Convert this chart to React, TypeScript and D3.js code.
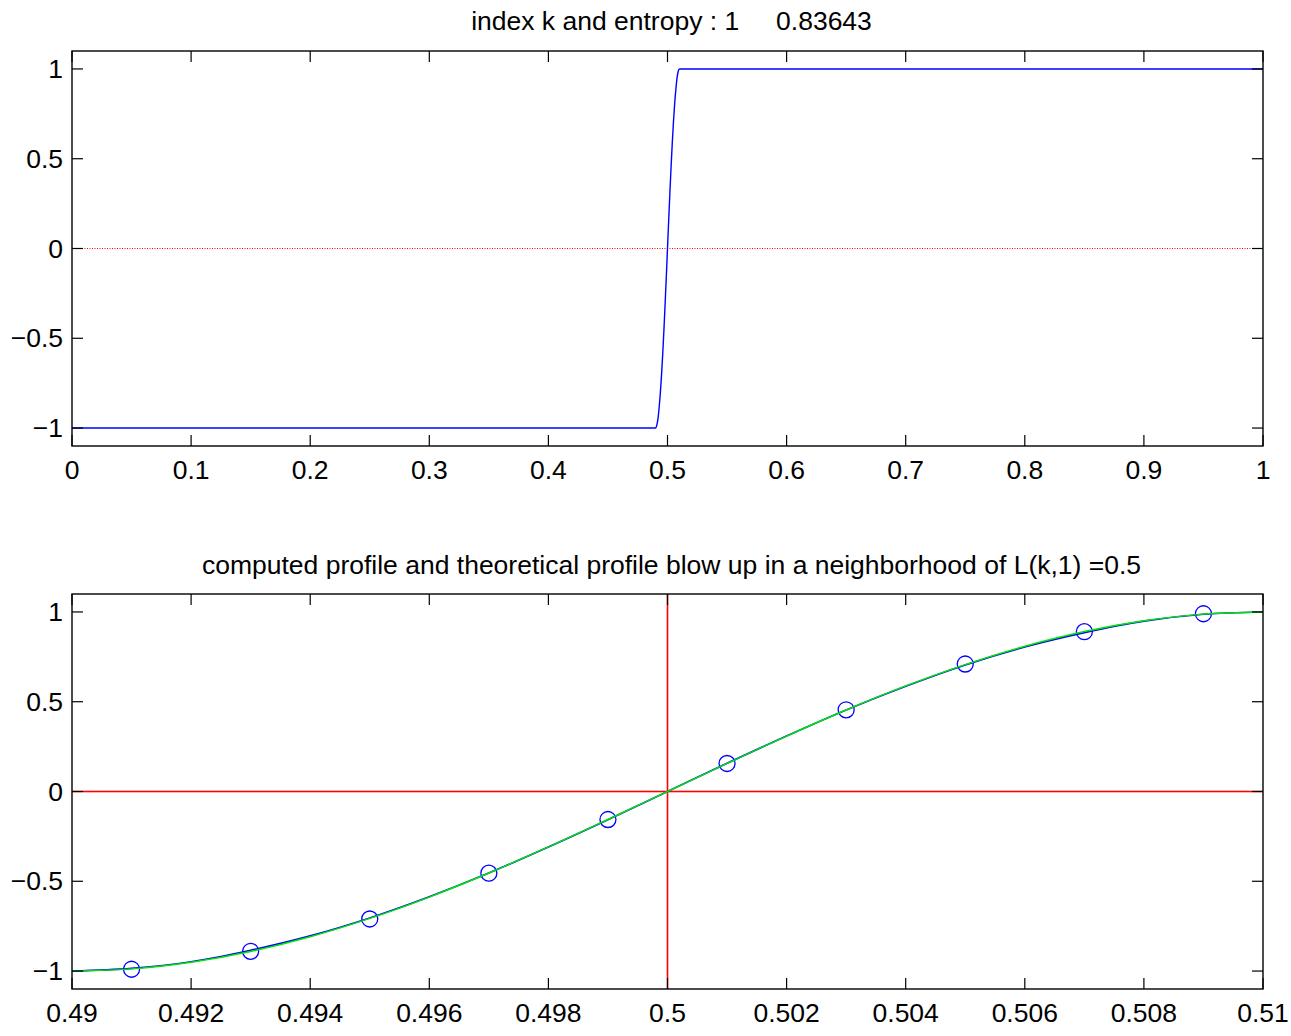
import React from "react";
import * as d3 from "d3";

const topTitle = "index k and entropy : 1     0.83643";
const bottomTitle = "computed profile and theoretical profile blow up in a neighborhood of L(k,1) =0.5";

const profileX = [0.490, 0.491, 0.492, 0.493, 0.494, 0.495, 0.496, 0.497, 0.498, 0.499, 0.500,
  0.501, 0.502, 0.503, 0.504, 0.505, 0.506, 0.507, 0.508, 0.509, 0.510];
const computedY = [-1.0, -0.985, -0.948, -0.884, -0.804, -0.704, -0.586, -0.454, -0.309, -0.157, 0.0,
  0.157, 0.309, 0.454, 0.586, 0.705, 0.805, 0.885, 0.949, 0.987, 1.0];
const theoreticalY = [-1.0, -0.988, -0.951, -0.891, -0.809, -0.707, -0.588, -0.454, -0.309, -0.156, 0.0,
  0.156, 0.309, 0.454, 0.588, 0.707, 0.809, 0.891, 0.951, 0.988, 1.0];
const markerX = [0.491, 0.493, 0.495, 0.497, 0.499, 0.501, 0.503, 0.505, 0.507, 0.509];
const markerY = [-0.99, -0.89, -0.71, -0.455, -0.156, 0.156, 0.455, 0.71, 0.89, 0.99];

const fullX = [0, ...profileX, 1];
const fullY = [-1, ...computedY, 1];

const topXTicks = [0, 0.1, 0.2, 0.3, 0.4, 0.5, 0.6, 0.7, 0.8, 0.9, 1];
const topXLabels = ["0", "0.1", "0.2", "0.3", "0.4", "0.5", "0.6", "0.7", "0.8", "0.9", "1"];
const botXTicks = [0.49, 0.492, 0.494, 0.496, 0.498, 0.5, 0.502, 0.504, 0.506, 0.508, 0.51];
const botXLabels = ["0.49", "0.492", "0.494", "0.496", "0.498", "0.5", "0.502", "0.504", "0.506", "0.508", "0.51"];
const yTicks = [-1, -0.5, 0, 0.5, 1];
const yLabels = ["\u22121", "\u22120.5", "0", "0.5", "1"];

const FONT = "'Liberation Sans', Arial, Helvetica, sans-serif";
const FS = 26.5;
const LEFT = 72;
const RIGHT = 1263;
const TICK = 11;

function Axes({ top, bottom, xDomain, xTicks, xLabels, title, titleY, children }: any) {
  const x = d3.scaleLinear().domain(xDomain).range([LEFT, RIGHT]);
  const y = d3.scaleLinear().domain([-1.1, 1.1]).range([bottom, top]);
  return (
    <g>
      <text x={(LEFT + RIGHT) / 2 + 4} y={titleY} textAnchor="middle" dominantBaseline="central"
        fontSize={FS} fontFamily={FONT} style={{ whiteSpace: "pre" }} xmlSpace="preserve">{title}</text>
      {children(x, y)}
      <rect x={LEFT} y={top} width={RIGHT - LEFT} height={bottom - top} fill="none" stroke="#000" strokeWidth={1.4} />
      {xTicks.map((t: number, i: number) => (
        <g key={"x" + i}>
          <line x1={x(t)} x2={x(t)} y1={bottom} y2={bottom - TICK} stroke="#000" strokeWidth={1.2} />
          <line x1={x(t)} x2={x(t)} y1={top} y2={top + TICK} stroke="#000" strokeWidth={1.2} />
          <text x={x(t)} y={bottom + 24} textAnchor="middle" dominantBaseline="central" fontSize={FS} fontFamily={FONT}>{xLabels[i]}</text>
        </g>
      ))}
      {yTicks.map((t: number, i: number) => (
        <g key={"y" + i}>
          <line x1={LEFT} x2={LEFT + TICK} y1={y(t)} y2={y(t)} stroke="#000" strokeWidth={1.2} />
          <line x1={RIGHT} x2={RIGHT - TICK} y1={y(t)} y2={y(t)} stroke="#000" strokeWidth={1.2} />
          <text x={LEFT - 9} y={y(t)} textAnchor="end" dominantBaseline="central" fontSize={FS} fontFamily={FONT}>{yLabels[i]}</text>
        </g>
      ))}
    </g>
  );
}

export default function App() {
  return (
    <svg width={1291} height={1036} style={{ position: "absolute", left: 0, top: 0, background: "#fff" }}>
      <rect width={1291} height={1036} fill="#fff" />
      <Axes top={51} bottom={446} xDomain={[0, 1]} xTicks={topXTicks} xLabels={topXLabels}
        title={topTitle} titleY={21}>
        {(x: any, y: any) => {
          const line = d3.line<number>().x((_, i) => x(fullX[i])).y((d) => y(d)).curve(d3.curveMonotoneX);
          return (
            <g>
              <line x1={x(0)} x2={x(1)} y1={y(0)} y2={y(0)} stroke="#ff0000" strokeWidth={1} strokeDasharray="1,1.5" />
              <path d={line(fullY) || ""} fill="none" stroke="#0000ff" strokeWidth={1.4} />
            </g>
          );
        }}
      </Axes>
      <Axes top={594} bottom={989} xDomain={[0.49, 0.51]} xTicks={botXTicks} xLabels={botXLabels}
        title={bottomTitle} titleY={565}>
        {(x: any, y: any) => {
          const mk = (ys: number[]) => d3.line<number>().x((_, i) => x(profileX[i])).y((d) => y(d)).curve(d3.curveMonotoneX)(ys) || "";
          return (
            <g>
              <rect x={x(0.49)} y={y(0) - 0.8} width={x(0.51) - x(0.49)} height={1.6} fill="#ff0000" />
              <rect x={x(0.5) - 0.8} y={y(1.1)} width={1.6} height={y(-1.1) - y(1.1)} fill="#ff0000" />
              <path d={mk(computedY)} fill="none" stroke="#0000ff" strokeWidth={1.6} />
              {markerX.map((mx, i) => (
                <circle key={i} cx={x(mx)} cy={y(markerY[i])} r={8} fill="none" stroke="#0000ff" strokeWidth={1.3} />
              ))}
              <path d={mk(theoreticalY)} fill="none" stroke="#00e600" strokeWidth={1.4} />
            </g>
          );
        }}
      </Axes>
    </svg>
  );
}
